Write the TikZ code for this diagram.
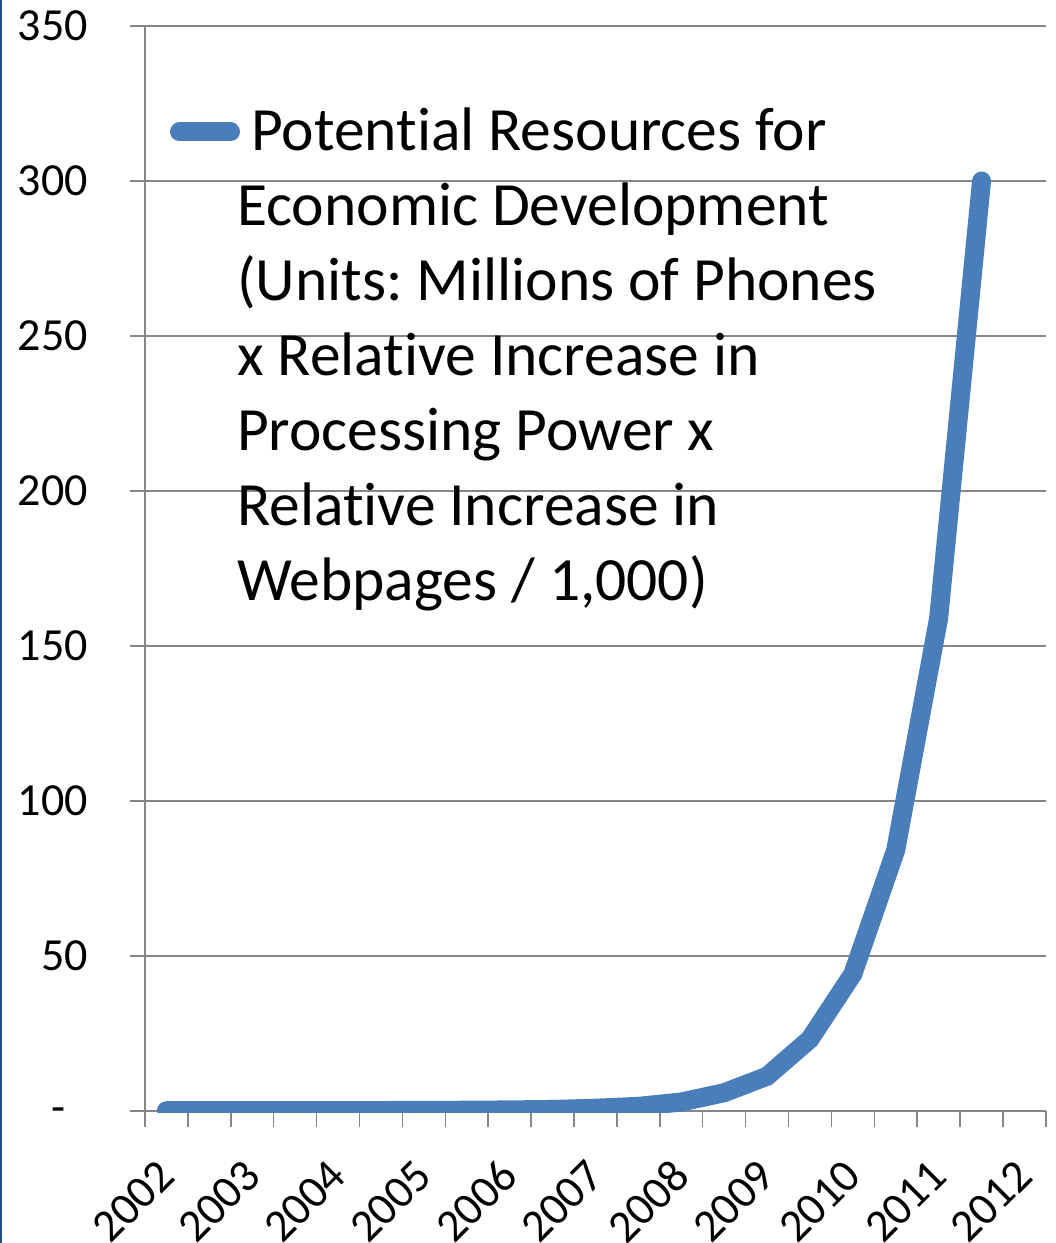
\documentclass[tikz,border=0pt]{standalone}
\usepackage{fontspec}
\setmainfont{Carlito}[Ligatures=NoCommon]
\usepackage{tikz}
\usetikzlibrary{positioning}
\definecolor{seriesblue}{HTML}{4A7EBB}
\definecolor{gridgray}{HTML}{868686}
\definecolor{edgeblue}{HTML}{24508A}
\frenchspacing

\begin{document}
\begin{tikzpicture}[
				x = 42.9pt, y = 3.1pt,
				grid/.style = {gridgray, line width = 1.5pt},
				series/.style = {seriesblue, line width = 19pt, line cap = round, line join = miter},
				ticklabel/.style = {font = \fontsize{46}{50}\selectfont, inner sep = 0pt},
				legendtext/.style = {font = \fontsize{61.5}{75}\selectfont, inner sep = 0pt, align = left}
			]

			\useasboundingbox (-145pt,-132pt) rectangle (911pt,1111pt);
			\draw[edgeblue, line width = 2.5pt] (-144pt,-132pt) -- (-144pt,1111pt);

			% gridlines and values
			\foreach \v in {50,100,...,350} {
				\draw[grid] ([xshift=-15pt]0,\v) -- (21,\v);
				\node[ticklabel, anchor = east] (ylab\v) at ([xshift=-57pt]0,\v) {\v};
			}
			\node[ticklabel, anchor = east] (ylab0) at ([xshift=-79pt,yshift=-4pt]0,0) {-};

			% axes and ticks
			\draw[grid] (0,350) -- ([yshift=-16pt]0,0);
			\draw[grid] ([xshift=-15pt]0,0) -- (21,0);
			\foreach \k in {1,...,21}
				\draw[grid] (\k,0) -- ([yshift=-16pt]\k,0);

			% years on every second category
			\foreach \yr [count=\i from 0] in {2002,...,2012}
				\node[ticklabel, rotate = 45, anchor = east] (year\yr) at ([yshift=-57pt]{2*\i+0.5},0) {\yr};

			% series, cut at the plot area
			\begin{scope}
				\clip ([yshift=-1.5pt]0,0) rectangle (21,360);
				\draw[series] plot coordinates {(0.5,0.1) (1.5,0.1) (2.5,0.1) (3.5,0.1) (4.5,0.1)
					(5.5,0.15) (6.5,0.2) (7.5,0.25) (8.5,0.35) (9.5,0.5) (10.5,0.9) (11.5,1.5)
					(12.5,2.9) (13.5,5.9) (14.5,11.2) (15.5,23.2) (16.5,44.2) (17.5,84.2)
					(18.5,159) (19.5,300)};
			\end{scope}

			% legend
			\draw[series] (34.5pt,979pt) -- (85.5pt,979pt);
			\node[legendtext, anchor = base west] (legtext) at (92pt,510.3pt)
				{\hspace*{14pt}Potential Resources for\\Economic Development\\(Units: Millions of Phones\\x Relative Increase in\\Processing Power x\\Relative Increase in\\Webpages / 1,000)};

			\end{tikzpicture}
\end{document}
